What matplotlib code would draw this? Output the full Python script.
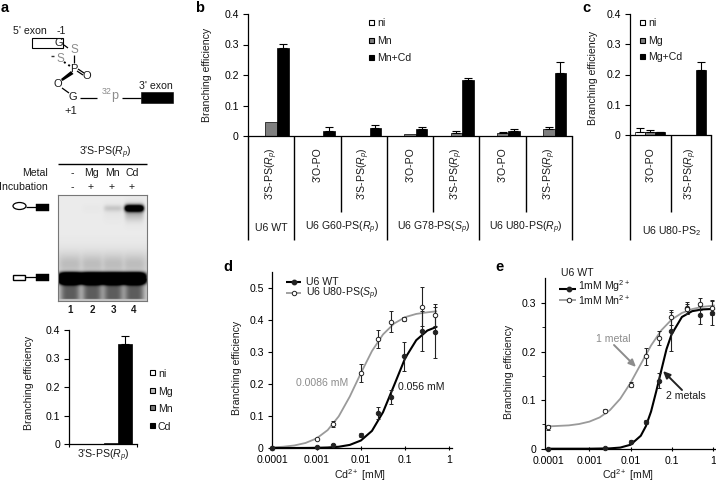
import numpy as np
import matplotlib
matplotlib.use("Agg")
import matplotlib.pyplot as plt
import matplotlib.ticker
from matplotlib.patches import Rectangle, Ellipse

W, H = 716, 484
plt.rcParams.update({
    'font.family': 'Liberation Sans', 'font.size': 7.6,
    'mathtext.fontset': 'custom', 'mathtext.rm': 'Liberation Sans',
    'mathtext.it': 'Liberation Sans:italic', 'mathtext.bf': 'Liberation Sans:bold',
    'axes.linewidth': 0.9, 'xtick.major.width': 0.8, 'ytick.major.width': 0.8,
    'xtick.minor.width': 0.6, 'ytick.minor.width': 0.6,
})

# ---- data ----
RP = r"3'S-PS($\mathit{R_p}$)"
OPO = "3'O-PO"

a_series = ['ni', 'Mg', 'Mn', 'Cd']
a_values = [0.0, 0.0, 0.002, 0.35]
a_errors = [0.0, 0.0, 0.0, 0.028]
a_colors = ['white', '#bdbdbd', '#777777', 'black']

b_labels = [RP, OPO, RP, OPO, RP, OPO, RP]
b_groups = ['U6 WT', r'U6 G60-PS($\mathit{R_p}$)', r'U6 G78-PS($\mathit{S_p}$)', r'U6 U80-PS($\mathit{R_p}$)']
b_series = ['ni', 'Mn', 'Mn+Cd']
b_ni = [0.0, 0.0, 0.0, 0.001, 0.001, 0.001, 0.001]
b_mn = [0.045, 0.001, 0.001, 0.006, 0.009, 0.010, 0.023]
b_cd = [0.290, 0.016, 0.027, 0.022, 0.182, 0.018, 0.207]
b_mn_err = [0.0, 0.0, 0.0, 0.0, 0.009, 0.002, 0.008]
b_cd_err = [0.013, 0.012, 0.010, 0.008, 0.009, 0.004, 0.034]

c_labels = [OPO, RP]
c_series = ['ni', 'Mg', 'Mg+Cd']
c_ni = [0.010, 0.0]
c_mg = [0.009, 0.001]
c_cd = [0.009, 0.216]
c_ni_err = [0.012, 0.0]
c_mg_err = [0.007, 0.0]
c_cd_err = [0.002, 0.026]

d_x = [0.0001, 0.001, 0.0024, 0.01, 0.024, 0.048, 0.096, 0.24, 0.48]
d_wt = [0.0, 0.003, 0.010, 0.040, 0.110, 0.160, 0.287, 0.365, 0.362]
d_wt_err = [0.0, 0.0, 0.004, 0.006, 0.018, 0.022, 0.045, 0.062, 0.080]
d_sp = [0.0, 0.028, 0.075, 0.235, 0.340, 0.395, 0.402, 0.442, 0.415]
d_sp_err = [0.0, 0.0, 0.008, 0.028, 0.028, 0.033, 0.006, 0.062, 0.035]
curve_x = [-4, -3.75, -3.5, -3.25, -3, -2.75, -2.5, -2.25, -2, -1.75, -1.5, -1.25, -1, -0.75, -0.5, -0.3]
d_wt_curve = [0, 0, .0001, .0002, .0006, .0016, .0039, .0097, .0234, .0535, .112, .196, .281, .337, .367, .378]
d_sp_curve = [.002, .004, .008, .0157, .030, .056, .099, .161, .234, .303, .355, .389, .409, .419, .424, .427]

e_x = [0.0001, 0.0024, 0.01, 0.024, 0.048, 0.096, 0.24, 0.48, 0.96]
e_mg = [0.0, 0.001, 0.014, 0.055, 0.140, 0.242, 0.290, 0.275, 0.280]
e_mg_err = [0.0, 0.0, 0.003, 0.005, 0.015, 0.040, 0.012, 0.018, 0.025]
e_mn = [0.044, 0.078, 0.132, 0.190, 0.228, 0.270, 0.288, 0.298, 0.290]
e_mn_err = [0.005, 0.003, 0.006, 0.018, 0.014, 0.015, 0.010, 0.012, 0.014]
e_mg_curve_x = [-4, -3, -2.5, -2.25, -2, -1.75, -1.625, -1.5, -1.375, -1.25, -1.125, -1, -0.75, -0.5, -0.25, 0, 0.03]
e_mg_curve = [0, 0, .0007, .0023, .0081, .0266, .0465, .0765, .1177, .1615, .2047, .2354, .2710, .2830, .2866, .2875, .288]
e_mn_curve_x = [-4, -3.5, -3.25, -3, -2.75, -2.5, -2.25, -2, -1.75, -1.5, -1.25, -1, -0.75, -0.5, -0.25, 0, 0.03]
e_mn_curve = [.0459, .048, .0508, .0557, .0644, .0793, .1027, .1353, .174, .2124, .2437, .2657, .2793, .2873, .2918, .2942, .2945]

gel_lanes = [70, 92, 113, 134]
gel_upper = [0.0, 0.01, 0.13, 1.6]
gel_lower = [2.4, 2.4, 2.4, 2.4]
gel_lane_labels = ['1', '2', '3', '4']

# ---- helpers ----
fig = plt.figure(figsize=(W / 100, H / 100), dpi=100)

def ax_px(x0, y0, x1, y1, zorder=1):
    ax = fig.add_axes([x0 / W, 1 - y1 / H, (x1 - x0) / W, (y1 - y0) / H], zorder=zorder)
    ax.patch.set_alpha(0)
    return ax

ov = fig.add_axes([0, 0, 1, 1], zorder=5)
ov.set_xlim(0, W); ov.set_ylim(H, 0); ov.axis('off'); ov.patch.set_alpha(0)

def T(x, y, s, ha='center', va='center', **kw):
    kw.setdefault('color', '#1a1a1a')
    return ov.text(x, y, s, ha=ha, va=va, **kw)

def L(xs, ys, lw=0.9, color='black', **kw):
    ov.plot(xs, ys, lw=lw, color=color, solid_capstyle='butt', **kw)

def R(x0, y0, x1, y1, fc, ec='black', lw=0.8):
    ov.add_patch(Rectangle((x0, y0), x1 - x0, y1 - y0, fc=fc, ec=ec, lw=lw, zorder=2))

def style(ax):
    ax.spines['top'].set_visible(False)
    ax.spines['right'].set_visible(False)

def legend_squares(x, ys, names, colors, tx, dy=1):
    for y, n, c in zip(ys, names, colors):
        R(x - 2.5, y - 2.5, x + 2.5, y + 2.5, c)
        T(tx, y + dy, n, ha='left')

def bars(ax, xs, vals, w, color, errs=None):
    ax.bar(xs, vals, w, color=color, edgecolor='black', linewidth=0.5, zorder=2)
    if errs is not None:
        ex = [x for x, e in zip(xs, errs) if e > 0]
        ey = [v for v, e in zip(vals, errs) if e > 0]
        ee = [e for e in errs if e > 0]
        ax.errorbar(ex, ey, yerr=[[0] * len(ee), ee], fmt='none', ecolor='black',
                    elinewidth=0.8, capsize=2.8, capthick=0.8, zorder=3)

# ---- panel letters ----
for px, py, s in [(5, 8, 'a'), (200, 8, 'b'), (586, 8, 'c'), (228, 267, 'd'), (499, 267, 'e')]:
    T(px, py, s, fontsize=10.5, fontweight='bold', color='black')

# ---- panel a schematic ----
T(30, 31, "5' exon"); T(61, 31, "-1")
R(32, 38, 63, 48, 'white')
T(59, 43, 'G', fontsize=8)
grey = '#8c8c8c'
T(74, 50, 'S', color=grey, fontsize=8.5)
T(60, 59, 'S', color=grey, fontsize=8.5)
L([50.5, 54], [56, 56], lw=1.0, color='#333333')
T(74, 69, 'P', fontsize=8); T(87, 76, 'O', fontsize=8); T(58, 84, 'O', fontsize=8)
T(73, 97, 'G', fontsize=8); T(71, 111, '+1', fontsize=8)
L([64, 68], [45, 48]); L([74, 74], [55, 63])
L([64, 70], [62, 66], lw=1.4, ls=':')
L([78, 84], [69, 73]); L([77, 83], [71, 75])
ov.fill([71, 73.5, 62.5, 61], [71, 74, 81, 79], color='black', lw=0)
L([62, 69], [88, 93]); L([80, 97], [97.5, 97.5])
T(110, 96, r'$^{32}$p', color=grey, fontsize=9)
L([122, 141], [97.5, 97.5])
R(141, 92, 173, 103, 'black', lw=0.4)
T(156, 86, "3' exon")

# ---- gel ----
T(105, 153, RP)
L([58, 147], [163.5, 163.5], lw=1.0)
T(48, 173, 'Metal', ha='right'); T(48, 187, 'Incubation', ha='right')
for x, m, inc in zip([72, 91, 112, 132], ['-', 'Mg', 'Mn', 'Cd'], ['-', '+', '+', '+']):
    T(x, 173, m); T(x, 187, inc)

gx0, gx1, gy0, gy1 = 58, 147, 195, 301
yy, xx = np.mgrid[gy0:gy1:0.5, gx0:gx1:0.5]
dark = 0.08 * np.ones_like(xx)
dark += 0.12 * np.exp(-((yy - 264) / 14.0) ** 2) * (yy < 278)
for cx, up, lo in zip(gel_lanes, gel_upper, gel_lower):
    lane = np.exp(-np.abs((xx - cx) / 9.5) ** 6)
    dark += up * lane * np.exp(-((yy - 208) / 3.2) ** 2)
    dark += 0.15 * up * lane * np.exp(-((yy - 212) / 8.0) ** 2)
    dark += lo * np.exp(-np.abs((xx - cx) / 11.5) ** 4) * np.exp(-np.abs((yy - 278) / 5.5) ** 3)
    dark += 0.42 * np.exp(-np.abs((xx - cx) / 9.5) ** 4) * (yy > 278) * (yy < 299)
    dark += 0.06 * lane * np.exp(-((yy - 264) / 9.0) ** 2)
dark += 0.14 * (yy > 278)
gel = 1 - np.clip(dark, 0, 1)
gax = ax_px(gx0, gy0, gx1, gy1)
gax.imshow(gel, cmap='gray', vmin=0, vmax=1, aspect='auto', interpolation='bilinear')
gax.set_xticks([]); gax.set_yticks([])
for s in gax.spines.values():
    s.set_color('#777777'); s.set_linewidth(0.8)

ov.add_patch(Ellipse((19.5, 206), 13, 7, fc='white', ec='black', lw=0.9))
L([26, 37], [207, 207]); R(36, 204, 49, 211, 'black', lw=0.3)
R(13, 274.5, 25, 279.5, 'white', lw=1.0)
L([25, 37], [277, 277]); R(36, 274, 49, 280.5, 'black', lw=0.3)
for x, s in zip([70, 92, 113, 134], gel_lane_labels):
    T(x, 310, s, fontweight='bold', fontsize=7)

# ---- panel a bars ----
ax = ax_px(69, 330, 137, 444)
style(ax)
xl = (-31 / 68, 37 / 68)
ax.set_ylim(0, 0.4); ax.set_xlim(*xl)
bw = 14 / 68
offs = [-1.5 * bw + i * bw + 0.06 for i in range(4)]
for o, v, e, c in zip(offs, a_values, a_errors, a_colors):
    bars(ax, [o], [v], bw, c, [e])
ax.set_yticks([0, .1, .2, .3, .4], ['0', '0.1', '0.2', '0.3', '0.4'])
ax.set_xticks(xl, ['', ''])
ax.tick_params(axis='y', length=3.4, pad=3)
ax.tick_params(axis='x', length=2.5)
T(29, 383, 'Branching efficiency', rotation=90)
T(103, 456, RP)
legend_squares(152, [372, 390, 407, 425], a_series, a_colors, 158, dy=2)

# ---- panels b, c ----
def cat_axes(ax, n):
    style(ax)
    ax.set_ylim(0, 0.4); ax.set_xlim(-0.5, n - 0.5)
    ax.set_xticks([])
    ax.set_yticks([0, .1, .2, .3, .4], ['0', '0.1', '0.2', '0.3', '0.4'])
    ax.tick_params(axis='y', length=3.6, pad=3)

ax = ax_px(248, 14, 572, 136)
cat_axes(ax, 7)
pos = np.arange(7)
w = 0.25
bars(ax, pos - w, b_ni, w, 'white')
bars(ax, pos, b_mn, w, '#7f7f7f', b_mn_err)
bars(ax, pos + w, b_cd, w, 'black', b_cd_err)
T(207, 75, 'Branching efficiency', rotation=90)
bx = [248 + i * (572 - 248) / 7 for i in range(8)]
for i, lab in enumerate(b_labels):
    T((bx[i] + bx[i + 1]) / 2 + 0.5, 147, lab, rotation=90, va='top', ha='center')
for i in [0, 1, 3, 5, 7]:
    L([bx[i]] * 2, [136, 240], lw=1.0)
for i in [2, 4, 6]:
    L([bx[i]] * 2, [136, 212], lw=1.0)
for cx, lab in zip([271, 342, 434, 526], b_groups):
    T(cx, 228, lab)
legend_squares(371, [22, 40, 57], b_series, ['white', '#7f7f7f', 'black'], 377, dy=1)

ax = ax_px(630, 14, 711, 135)
cat_axes(ax, 2)
pos = np.arange(2)
w = 0.25
bars(ax, pos - w, c_ni, w, 'white', c_ni_err)
bars(ax, pos, c_mg, w, '#7f7f7f', c_mg_err)
bars(ax, pos + w, c_cd, w, 'black', c_cd_err)
T(593, 78, 'Branching efficiency', rotation=90)
for cx, lab in zip([651, 691], c_labels):
    T(cx, 147, lab, rotation=90, va='top')
for x, b in [(630, 240), (670.5, 212), (711, 240)]:
    L([x, x], [135, b], lw=1.0)
T(671, 231, r'U6 U80-PS$_{\mathit{2}}$')
legend_squares(642, [22, 40, 56], c_series, ['white', '#7f7f7f', 'black'], 648, dy=1)

# ---- panels d, e ----
def curve_axes(ax, xlim, ylim, yticks, ylabels):
    style(ax)
    ax.set_xscale('log')
    ax.set_xlim(*xlim); ax.set_ylim(*ylim)
    ax.set_xticks([1e-4, 1e-3, 1e-2, 1e-1, 1], ['0.0001', '0.001', '0.01', '0.1', '1'])
    ax.xaxis.set_minor_locator(matplotlib.ticker.NullLocator())
    ax.set_yticks(yticks, ylabels)
    ax.tick_params(axis='x', length=2.5, pad=4, direction='inout')
    ax.tick_params(axis='y', length=3.2, pad=3)

def points(ax, x, y, err, mfc, ms=3.2):
    ax.errorbar(x, y, yerr=err, fmt='o', ms=ms, mfc=mfc, mec='#222222', mew=0.7, ecolor='#222222',
                elinewidth=0.8, capsize=1.5, capthick=0.7, clip_on=False, zorder=4)

ax = ax_px(272.3, 272, 452, 448)
curve_axes(ax, (1e-4, 1.14), (0, 0.55), [0, .1, .2, .3, .4, .5], ['0', '0.1', '0.2', '0.3', '0.4', '0.5'])
ax.plot(10.0 ** np.array(curve_x), d_sp_curve, color='#9a9a9a', lw=1.3, zorder=2, clip_on=False)
ax.plot(10.0 ** np.array(curve_x), d_wt_curve, color='black', lw=1.5, zorder=3, clip_on=False)
points(ax, d_x, d_sp, d_sp_err, 'white')
points(ax, d_x, d_wt, d_wt_err, '#222222')
T(237, 368, 'Branching efficiency', rotation=90)
T(360, 475.5, r'Cd$^{2+}$ [mM]')
T(322, 383, '0.0086 mM', color='#8c8c8c')
T(421, 387, '0.056 mM')
L([286, 301], [282, 282], lw=1.5)
L([286, 301], [293, 293], lw=1.3, color='#9a9a9a')
ov.plot([294], [282], 'o', ms=3.2, mfc='#222222', mec='#222222', zorder=4)
ov.plot([294], [293], 'o', ms=3.2, mfc='white', mec='#222222', mew=0.7, zorder=4)
T(306, 282, 'U6 WT', ha='left')
T(306, 294, r'U6 U80-PS($\mathit{S_p}$)', ha='left')

ax = ax_px(545, 278, 716, 448.7)
dec = 41.5
curve_axes(ax, (10 ** (-4 - 3.3 / dec), 10 ** (3.3 / dec)), (0, 170.7 / 48.6 * 0.1),
           [0, .1, .2, .3], ['0', '0.1', '0.2', '0.3'])
ax.set_yticks([.05, .15, .25], minor=True)
ax.tick_params(axis='y', which='minor', length=2.5)
ax.plot(10.0 ** np.array(e_mn_curve_x), e_mn_curve, color='#9a9a9a', lw=1.3, zorder=2)
ax.plot(10.0 ** np.array(e_mg_curve_x), e_mg_curve, color='black', lw=1.5, zorder=3)
points(ax, e_x, e_mg, e_mg_err, '#222222')
points(ax, e_x, e_mn, e_mn_err, 'white')
T(509, 372, 'Branching efficiency', rotation=90)
T(628, 475.5, r'Cd$^{2+}$ [mM]')
T(561, 273, 'U6 WT', ha='left')
L([559, 576], [289, 289], lw=1.5)
L([559, 576], [300, 300], lw=1.3, color='#9a9a9a')
ov.plot([569], [289], 'o', ms=3.2, mfc='#222222', mec='#222222', zorder=4)
ov.plot([569], [300], 'o', ms=3.2, mfc='white', mec='#222222', mew=0.7, zorder=4)
T(578, 286.5, r'1mM Mg$^{2+}$', ha='left')
T(578, 300, r'1mM Mn$^{2+}$', ha='left')
T(613, 339, '1 metal', color='#8c8c8c')
T(686, 396, '2 metals')
ov.annotate('', xy=(636, 367), xytext=(614, 345),
            arrowprops=dict(arrowstyle='-|>,head_width=0.25,head_length=0.55', color='#8c8c8c', lw=1.4, shrinkA=0, shrinkB=0))
ov.annotate('', xy=(663, 371), xytext=(682, 390),
            arrowprops=dict(arrowstyle='-|>,head_width=0.25,head_length=0.55', color='#222222', lw=1.4, shrinkA=0, shrinkB=0))

fig.savefig('out.png', dpi=100)
